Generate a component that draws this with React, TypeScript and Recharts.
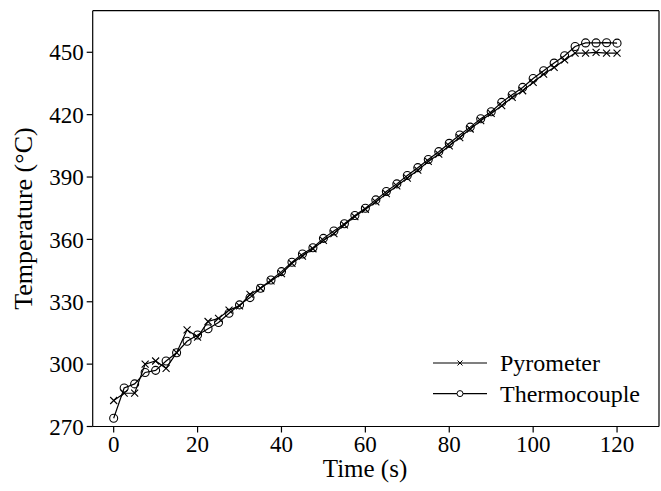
import React from 'react';
import { LineChart, Line, XAxis, YAxis, Legend, ReferenceLine } from 'recharts';

const timeS = [0, 2.5, 5, 7.5, 10, 12.5, 15, 17.5, 20, 22.5, 25, 27.5, 30, 32.5, 35, 37.5, 40, 42.5, 45, 47.5, 50, 52.5, 55, 57.5, 60, 62.5, 65, 67.5, 70, 72.5, 75, 77.5, 80, 82.5, 85, 87.5, 90, 92.5, 95, 97.5, 100, 102.5, 105, 107.5, 110, 112.5, 115, 117.5, 120];

const pyrometer = [282.5, 286, 286, 300, 301.5, 298, 305.5, 316.5, 313, 320.5, 322, 326, 328, 333.5, 336.5, 340, 343.5, 348.5, 352, 355.5, 359.5, 362.8, 367, 371, 374.5, 378, 382, 385.7, 389.5, 393.3, 397.5, 401, 405, 409, 413.1, 417.1, 420.6, 424.3, 428.3, 431.5, 435.5, 439.5, 442.7, 446.3, 449.6, 449.6, 450, 449.6, 449.6];

const thermocouple = [274, 288.5, 290.5, 296, 297, 301.5, 305.5, 311, 314, 317, 320, 324.5, 328.5, 332, 336.5, 340.5, 344.5, 349, 353, 356, 360.5, 364, 367.5, 371.5, 375, 379, 383, 386.7, 390.7, 394.5, 398.4, 402.2, 406.2, 410.2, 414, 418, 421.4, 425.9, 429.6, 433.1, 437.4, 441.1, 444.8, 448.3, 452.8, 454.5, 454.5, 454.6, 454.4];

const xTicks = [0, 20, 40, 60, 80, 100, 120];
const yTicks = [270, 300, 330, 360, 390, 420, 450];
const xDomain = [-5, 130];
const yDomain = [270, 470];
const seriesNames = ['Pyrometer', 'Thermocouple'];
const xLabel = 'Time (s)';
const yLabel = 'Temperature (°C)';

const data = timeS.map((t, i) => ({ t, pyrometer: pyrometer[i], thermocouple: thermocouple[i] }));

const FONT = '"Liberation Serif", "Times New Roman", serif';

const Cross = (props: any) => {
  const { cx, cy, index } = props;
  if (cx == null || cy == null) return <g key={`c${index}`} />;
  const s = 3.5;
  return (
    <path
      key={`c${index}`}
      d={`M${cx - s},${cy - s}L${cx + s},${cy + s}M${cx - s},${cy + s}L${cx + s},${cy - s}`}
      stroke="#000"
      strokeWidth={1.1}
      fill="none"
    />
  );
};

const Ring = (props: any) => {
  const { cx, cy, index } = props;
  if (cx == null || cy == null) return <g key={`r${index}`} />;
  return <circle key={`r${index}`} cx={cx} cy={cy} r={4} stroke="#000" strokeWidth={1.1} fill="none" />;
};

const renderLegend = () => (
  <svg width={230} height={70} style={{ overflow: 'visible', position: 'absolute', left: 0, top: 0 }}>
    {seriesNames.map((name, i) => {
      const y = 12 + i * 30.6;
      return (
        <g key={name}>
          <line x1={0} x2={54} y1={y} y2={y} stroke="#000" strokeWidth={1.2} />
          {i === 0 ? (
            <path d={`M${27 - 2.5},${y - 2.5}L${27 + 2.5},${y + 2.5}M${27 - 2.5},${y + 2.5}L${27 + 2.5},${y - 2.5}`} stroke="#000" strokeWidth={1} />
          ) : (
            <circle cx={27} cy={y} r={3} stroke="#000" strokeWidth={1} fill="#fff" />
          )}
          <text x={67} y={y} dy="0.35em" fontFamily={FONT} fontSize={24} fill="#000">
            {name}
          </text>
        </g>
      );
    })}
  </svg>
);

const XLabel = () => (
  <text x={365} y={468} dy="0.35em" textAnchor="middle" fontFamily={FONT} fontSize={25} fill="#000">
    {xLabel}
  </text>
);

const YLabel = (props: any) => {
  const vb = props.viewBox || {};
  const cx = 23;
  const cy = vb.y + vb.height / 2;
  return (
    <text x={cx} y={cy} dy="0.35em" textAnchor="middle" transform={`rotate(-90, ${cx}, ${cy})`} fontFamily={FONT} fontSize={26} fill="#000">
      {yLabel}
    </text>
  );
};

const tickStyle = { fontFamily: FONT, fontSize: 23, fill: '#000' };

export default function App() {
  return (
    <div style={{ position: 'absolute', left: 0, top: 0, background: '#fff' }}>
      <LineChart width={661} height={491} data={data} margin={{ top: 10.7, right: 2, bottom: 0, left: 0 }}>
        <XAxis
          dataKey="t"
          type="number"
          domain={xDomain}
          allowDataOverflow
          ticks={xTicks}
          tickSize={6}
          tickMargin={3}
          height={64.5}
          axisLine={{ stroke: '#000', strokeWidth: 1.2 }}
          tickLine={{ stroke: '#000', strokeWidth: 1.2 }}
          tick={tickStyle}
          label={<XLabel />}
        />
        <YAxis
          type="number"
          domain={yDomain}
          allowDataOverflow
          ticks={yTicks}
          tickSize={6}
          tickMargin={3}
          width={92.7}
          axisLine={{ stroke: '#000', strokeWidth: 1.2 }}
          tickLine={{ stroke: '#000', strokeWidth: 1.2 }}
          tick={tickStyle}
          label={<YLabel />}
        />
        <ReferenceLine y={yDomain[1]} stroke="#000" strokeWidth={1.2} ifOverflow="visible" />
        <ReferenceLine x={xDomain[1]} stroke="#000" strokeWidth={1.2} ifOverflow="visible" />
        <Legend
          verticalAlign="bottom"
          align="left"
          content={renderLegend}
          wrapperStyle={{ position: 'absolute', left: 433, top: 351, width: 0, height: 0, overflow: 'visible' }}
        />
        <Line
          name={seriesNames[0]}
          dataKey="pyrometer"
          type="linear"
          stroke="#000"
          strokeWidth={1.2}
          dot={<Cross />}
          activeDot={false}
          isAnimationActive={false}
        />
        <Line
          name={seriesNames[1]}
          dataKey="thermocouple"
          type="linear"
          stroke="#000"
          strokeWidth={1.2}
          dot={<Ring />}
          activeDot={false}
          isAnimationActive={false}
        />
      </LineChart>
    </div>
  );
}
